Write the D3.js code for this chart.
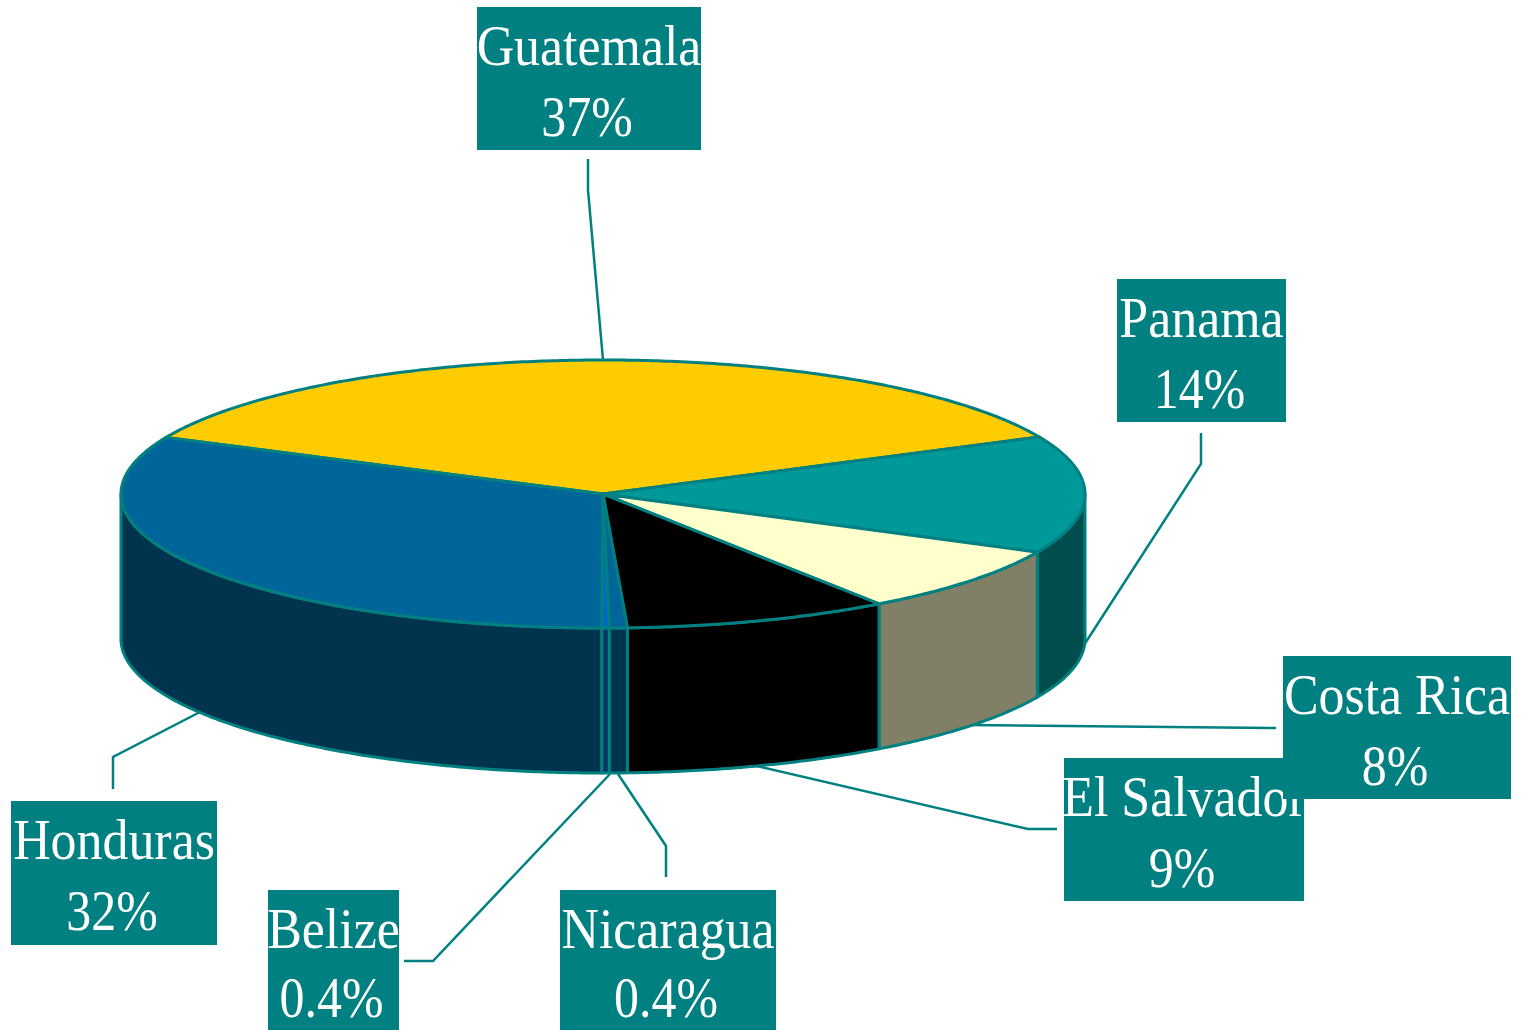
<!DOCTYPE html>
<html>
<head>
<meta charset="utf-8">
<title>Central America pie</title>
<script src="https://cdn.jsdelivr.net/npm/d3@7"></script>
<style>
  html, body { margin: 0; padding: 0; background: #fff; }
  svg { display: block; }
</style>
</head>
<body>
<div id="chart"></div>
<script>
// Clockwise from the top slice. Shares are measured off the drawn pie,
// the printed labels are the (rounded) ones from the picture.
const categories = ['Guatemala', 'Panama', 'Costa Rica', 'El Salvador', 'Nicaragua', 'Belize', 'Honduras'];
const shares = [36.05, 14.15, 8.15, 8.9, 0.6, 0.25, 31.9];
const percentLabels = ['37%', '14%', '8%', '9%', '0.4%', '0.4%', '32%'];
const topColors = ['#ffcc00', '#009999', '#ffffcc', '#000000', '#006699', '#0066cc', '#006699'];
const sideColors = ['#806600', '#004d4d', '#808066', '#000000', '#00334d', '#003366', '#00334d'];

// Label boxes, [x0, y0, x1, y1]. Costa Rica sits on top of El Salvador.
const boxOrder = ['Guatemala', 'Panama', 'El Salvador', 'Costa Rica', 'Honduras', 'Belize', 'Nicaragua'];
const labelBoxes = {
  'Guatemala': [477, 7, 701, 150],
  'Panama': [1117, 279, 1286, 422],
  'El Salvador': [1064, 758, 1304, 901],
  'Costa Rica': [1283, 656, 1511, 799],
  'Honduras': [11, 801, 217, 945],
  'Belize': [268, 890, 399, 1030],
  'Nicaragua': [560, 890, 776, 1030]
};
const leaderLines = {
  'Guatemala': [[588, 159], [588, 190], [603, 360]],
  'Panama': [[1201, 433], [1201, 464], [1084, 645]],
  'Costa Rica': [[1276, 728], [967, 725]],
  'El Salvador': [[1057, 829], [1028, 829], [757, 766]],
  'Nicaragua': [[666, 877], [666, 846], [618, 774]],
  'Belize': [[404, 961], [433, 961], [610, 774]],
  'Honduras': [[113, 789], [113, 757], [200, 712]]
};

const width = 1530;
const height = 1030;
const teal = '#008080';
const depth = 145;

const svg = d3.select('#chart').append('svg')
  .attr('width', width)
  .attr('height', height)
  .attr('viewBox', `0 0 ${width} ${height}`);

// Tilted disc: unit circle mapped onto the ellipse of the top face
const xScale = d3.scaleLinear().domain([-1, 1]).range([121, 1085]);
const yScale = d3.scaleLinear().domain([-1, 1]).range([628, 360]);
const px = a => xScale(Math.sin(a));
const py = a => yScale(Math.cos(a));

const startAngle = -65 * Math.PI / 180;
const pie = d3.pie().sort(null).startAngle(startAngle).endAngle(startAngle + 2 * Math.PI);
const slices = pie(shares).map((d, i) => ({ ...d, name: categories[i] }));

const lineGen = d3.line();

function arcPoints(a0, a1) {
  const steps = Math.max(2, Math.ceil((a1 - a0) / 0.01));
  return d3.range(steps + 1).map(k => {
    const a = a0 + (a1 - a0) * k / steps;
    return [px(a), py(a)];
  });
}

// Leaders go under the pie
svg.append('g').selectAll('path')
  .data(categories)
  .join('path')
  .attr('d', d => lineGen(leaderLines[d]))
  .attr('fill', 'none')
  .attr('stroke', teal)
  .attr('stroke-width', 2.5);

// Walls: only the part of each slice that faces the viewer (90deg..270deg)
const wallFrom = Math.PI / 2;
const wallTo = 3 * Math.PI / 2;
svg.append('g').selectAll('path')
  .data(slices.filter(d => d.endAngle > wallFrom && d.startAngle < wallTo))
  .join('path')
  .attr('d', d => {
    const pts = arcPoints(Math.max(d.startAngle, wallFrom), Math.min(d.endAngle, wallTo));
    const lower = pts.map(p => [p[0], p[1] + depth]).reverse();
    return lineGen(pts.concat(lower)) + 'Z';
  })
  .attr('fill', d => sideColors[d.index])
  .attr('stroke', teal)
  .attr('stroke-width', 3)
  .attr('stroke-linejoin', 'round');

// Top face
svg.append('g').selectAll('path')
  .data(slices)
  .join('path')
  .attr('d', d => lineGen([[xScale(0), yScale(0)]].concat(arcPoints(d.startAngle, d.endAngle))) + 'Z')
  .attr('fill', d => topColors[d.index])
  .attr('stroke', teal)
  .attr('stroke-width', 3)
  .attr('stroke-linejoin', 'round');

// Label boxes. The original type is tall and narrow, so it gets squeezed sideways.
const box = svg.append('g').selectAll('g')
  .data(boxOrder)
  .join('g');

box.append('rect')
  .attr('x', d => labelBoxes[d][0])
  .attr('y', d => labelBoxes[d][1])
  .attr('width', d => labelBoxes[d][2] - labelBoxes[d][0])
  .attr('height', d => labelBoxes[d][3] - labelBoxes[d][1])
  .attr('fill', teal);

box.append('text')
  .attr('transform', d => `translate(${(labelBoxes[d][0] + labelBoxes[d][2]) / 2},${labelBoxes[d][1] + 57.5}) scale(0.895,1)`)
  .text(d => d);

// Bottom row sits right on the page edge, keep its descent inside
box.append('text')
  .attr('transform', d => `translate(${(labelBoxes[d][0] + labelBoxes[d][2]) / 2 - 2},${Math.min(labelBoxes[d][1] + 129, height - 13)}) scale(0.86,1)`)
  .text(d => percentLabels[categories.indexOf(d)]);

box.selectAll('text')
  .attr('text-anchor', 'middle')
  .attr('fill', '#fff')
  .attr('font-family', '"Liberation Serif", serif')
  .attr('font-size', '58px');
</script>
</body>
</html>
